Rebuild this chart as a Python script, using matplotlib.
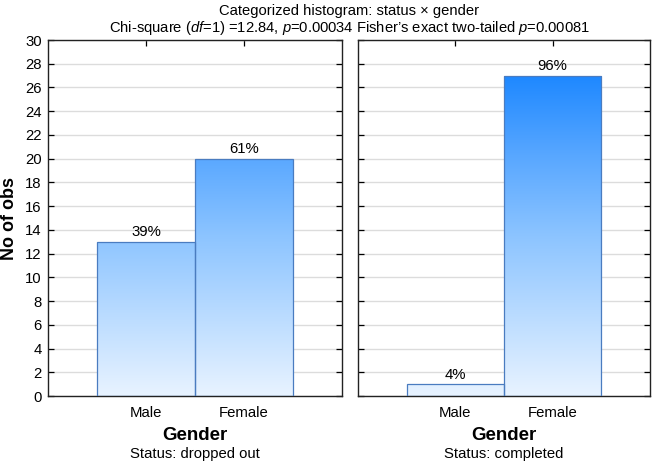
import matplotlib
matplotlib.use("Agg")
import matplotlib.pyplot as plt
import numpy as np
from matplotlib.colors import LinearSegmentedColormap

plt.rcParams['font.family'] = ['Liberation Sans', 'DejaVu Sans']
plt.rcParams['mathtext.fontset'] = 'custom'
plt.rcParams['mathtext.rm'] = 'Liberation Sans'
plt.rcParams['mathtext.it'] = 'Liberation Sans:italic'

categories = ["Male", "Female"]
dropped_out = [13, 20]
completed = [1, 27]
pct_dropped = ["39%", "61%"]
pct_completed = ["4%", "96%"]
panel_titles = ["Status: dropped out", "Status: completed"]
yticks = list(range(0, 31, 2))

title1 = "Categorized histogram: status \u00d7 gender"
title2 = "Chi-square ($\\mathit{df}$=1) =12.84, $\\mathit{p}$=0.00034 Fisher\u2019s exact two-tailed $\\mathit{p}$=0.00081"

cmap = LinearSegmentedColormap.from_list(
    "bl", [(0.0, "#e8f3ff"), (0.5, "#8cc4ff"), (0.75, "#58a7ff"), (1.0, "#1e88ff")])

W, H = 654, 462
fig = plt.figure(figsize=(6.54, 4.62), dpi=100)
ax1 = fig.add_axes([48/W, 1-396/H, 294/W, 356/H])
ax2 = fig.add_axes([358/W, 1-396/H, 292/W, 356/H])

grad = np.linspace(0, 1, 256).reshape(-1, 1)
panels = [(ax1, dropped_out, pct_dropped, panel_titles[0], True),
          (ax2, completed, pct_completed, panel_titles[1], False)]
for ax, vals, pcts, st, show in panels:
    x = np.arange(1, len(categories) + 1)
    bars = ax.bar(x, vals, width=1.0, facecolor='none', edgecolor='#4a7cc0',
                  linewidth=0.9, zorder=3)
    for b in bars:
        im = ax.imshow(grad, extent=[0, 3, 0, 27], origin='lower', aspect='auto',
                       cmap=cmap, zorder=2)
        im.set_clip_path(b)
    for xi, v, p in zip(x, vals, pcts):
        ax.text(xi, v + 0.2, p, ha='center', va='bottom', fontsize=10.7, zorder=4)
    ax.set_xlim(0, 3)
    ax.set_ylim(0, 30)
    ax.set_xticks(x)
    ax.set_xticklabels(categories)
    ax.set_yticks(yticks)
    ax.grid(axis='y', color='#dcdcdc', linewidth=1.0, zorder=0)
    ax.set_axisbelow(True)
    ax.tick_params(direction='in', top=True, right=True, length=4, width=0.9,
                   labelsize=10.7)
    ax.tick_params(axis='x', pad=7)
    ax.tick_params(axis='y', pad=4.5)
    if not show:
        ax.tick_params(labelleft=False)
    for s in ax.spines.values():
        s.set_linewidth(1.0)
        s.set_color('#222222')
    pos = ax.get_position()
    cx = (pos.x0 + pos.x1) / 2
    fig.text(cx, 1 - 435/H, "Gender", ha='center', va='center',
             fontsize=13.5, fontweight='bold')
    fig.text(cx, 1 - 454/H, st, ha='center', va='center', fontsize=10.7)

ax1.set_ylabel("No of obs", fontsize=13, fontweight='bold', labelpad=5)

tx = 349/W
fig.text(tx, 1 - 11/H, title1, ha='center', va='center', fontsize=10.6)
fig.text(tx, 1 - 28/H, title2, ha='center', va='center', fontsize=10.6)

fig.savefig("out.png", dpi=100)
